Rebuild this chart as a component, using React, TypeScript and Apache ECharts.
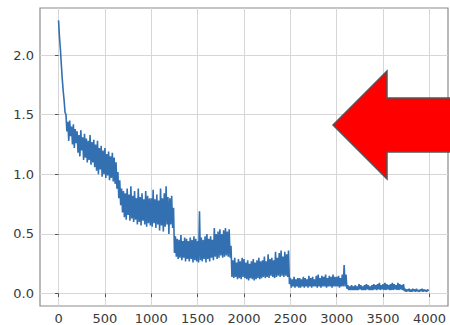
import React, { useEffect, useRef } from "react";
import * as echarts from "echarts";

// Loss curve: one high and one low reading per 20-step window
const sampleStep = 20;
const lossHigh = [
  2.29, 2.05, 1.8, 1.62, 1.5, 1.44, 1.45, 1.4, 1.42, 1.38,
  1.36, 1.33, 1.37, 1.31, 1.34, 1.3, 1.28, 1.33, 1.27, 1.29,
  1.25, 1.28, 1.22, 1.24, 1.2, 1.22, 1.17, 1.19, 1.15, 1.18,
  1.14, 1.1, 1.02, 0.95, 0.88, 0.86, 0.84, 0.88, 0.83, 0.9,
  0.82, 0.86, 0.8, 0.88, 0.81, 0.84, 0.79, 0.86, 0.82, 0.8,
  0.8, 0.87, 0.79, 0.83, 0.78, 0.88, 0.8, 0.84, 0.9, 0.81,
  0.8, 0.82, 0.72, 0.48, 0.46, 0.45, 0.49, 0.44, 0.47, 0.46,
  0.44, 0.47, 0.45, 0.48, 0.46, 0.44, 0.69, 0.47, 0.45, 0.48,
  0.5, 0.46, 0.48, 0.45, 0.55, 0.5, 0.52, 0.54, 0.5, 0.53,
  0.55, 0.52, 0.54, 0.4, 0.28, 0.3, 0.26, 0.29, 0.27, 0.3,
  0.29, 0.26, 0.28, 0.25, 0.27, 0.29, 0.26, 0.28, 0.3, 0.27,
  0.28, 0.31, 0.27, 0.33, 0.29, 0.3, 0.28, 0.35, 0.3, 0.34,
  0.36, 0.31, 0.35, 0.33, 0.36, 0.13, 0.12, 0.14, 0.12, 0.13,
  0.13, 0.12, 0.14, 0.13, 0.12, 0.15, 0.13, 0.14, 0.12, 0.15,
  0.16, 0.13, 0.15, 0.14, 0.16, 0.13, 0.15, 0.14, 0.16, 0.14,
  0.14, 0.15, 0.13, 0.16, 0.24, 0.16, 0.07, 0.06, 0.07, 0.06,
  0.07, 0.06, 0.08, 0.07, 0.06, 0.07, 0.08, 0.07, 0.06, 0.07,
  0.08, 0.07, 0.08, 0.09, 0.07, 0.08, 0.09, 0.08, 0.07, 0.08,
  0.09, 0.08, 0.07, 0.09, 0.08, 0.07, 0.08, 0.04, 0.035, 0.04,
  0.035, 0.04, 0.035, 0.04, 0.03, 0.035, 0.04, 0.035, 0.03, 0.035,
];
const lossLow = [
  2.15, 1.92, 1.7, 1.52, 1.36, 1.28, 1.32, 1.25, 1.22, 1.26,
  1.18, 1.15, 1.2, 1.12, 1.14, 1.1, 1.12, 1.08, 1.1, 1.06,
  1.03, 1.0, 1.04, 0.98, 1.0, 0.97, 0.99, 0.95, 0.97, 0.94,
  0.92, 0.88, 0.8, 0.74, 0.68, 0.64, 0.62, 0.66, 0.61, 0.63,
  0.6, 0.62, 0.58, 0.6, 0.57, 0.61, 0.58, 0.56, 0.59, 0.57,
  0.56, 0.59, 0.55, 0.58, 0.53, 0.57, 0.52, 0.56, 0.58, 0.5,
  0.58, 0.55, 0.34, 0.31, 0.29, 0.3, 0.28, 0.3, 0.27, 0.29,
  0.27, 0.29, 0.26, 0.28, 0.27, 0.26, 0.28, 0.27, 0.29, 0.26,
  0.29, 0.27, 0.3, 0.28, 0.31, 0.29, 0.3, 0.32, 0.3, 0.31,
  0.32, 0.31, 0.3, 0.14, 0.13, 0.14, 0.12, 0.13, 0.12, 0.14,
  0.13, 0.12, 0.11, 0.13, 0.12, 0.11, 0.12, 0.13, 0.12, 0.13,
  0.14, 0.13, 0.14, 0.13, 0.15, 0.14, 0.13, 0.14, 0.15, 0.14,
  0.15, 0.14, 0.15, 0.14, 0.08, 0.05, 0.06, 0.05, 0.06, 0.05,
  0.05, 0.06, 0.05, 0.06, 0.05, 0.06, 0.05, 0.06, 0.06, 0.05,
  0.06, 0.05, 0.06, 0.06, 0.05, 0.06, 0.06, 0.05, 0.06, 0.06,
  0.06, 0.05, 0.06, 0.06, 0.06, 0.04, 0.03, 0.03, 0.03, 0.03,
  0.03, 0.03, 0.035, 0.03, 0.03, 0.03, 0.035, 0.03, 0.03, 0.03,
  0.035, 0.03, 0.035, 0.03, 0.035, 0.03, 0.03, 0.035, 0.03, 0.03,
  0.03, 0.035, 0.03, 0.03, 0.035, 0.03, 0.02, 0.015, 0.02, 0.015,
  0.015, 0.02, 0.015, 0.02, 0.015, 0.02, 0.015, 0.02, 0.015, 0.02,
];
const xTicks = [0, 500, 1000, 1500, 2000, 2500, 3000, 3500, 4000];
const yTicks = [0, 0.5, 1.0, 1.5, 2.0];

export default function App() {
  const ref = useRef<HTMLDivElement>(null);
  useEffect(() => {
    if (!ref.current) return;
    const chart = echarts.init(ref.current, null, { renderer: "svg" });
    const data: [number, number][] = [];
    for (let i = 0; i < lossHigh.length; i++) {
      data.push([i * sampleStep, lossHigh[i]]);
      data.push([i * sampleStep + sampleStep / 2, lossLow[i]]);
    }
    const labelStyle = {
      color: "#3a3a3a",
      fontSize: 13,
      fontFamily: "DejaVu Sans",
    };
    chart.setOption({
      animation: false,
      backgroundColor: "#ffffff",
      grid: {
        left: 40,
        top: 8,
        width: 408,
        height: 298,
        show: true,
        borderColor: "#8c8c8c",
        borderWidth: 1.2,
        backgroundColor: "transparent",
      },
      xAxis: {
        type: "value",
        min: -200,
        max: 4200,
        axisLine: { show: false },
        axisTick: {
          show: true,
          length: 3.5,
          lineStyle: { color: "#555" },
          customValues: xTicks,
        },
        axisLabel: {
          ...labelStyle,
          margin: 6,
          customValues: xTicks,
          formatter: (v: number) => String(v),
        },
        splitLine: { show: true, lineStyle: { color: "#d6d6d6", width: 1 } },
      },
      yAxis: {
        type: "value",
        min: -0.104,
        max: 2.394,
        axisLine: { show: false },
        axisTick: {
          show: true,
          length: 3.5,
          lineStyle: { color: "#555" },
          customValues: yTicks,
        },
        axisLabel: {
          ...labelStyle,
          margin: 6,
          customValues: yTicks,
          formatter: (v: number) => v.toFixed(1),
        },
        splitLine: { show: true, lineStyle: { color: "#d6d6d6", width: 1 } },
      },
      series: [
        {
          type: "line",
          data,
          showSymbol: false,
          symbol: "none",
          lineStyle: { color: "#3270b2", width: 1.6 },
          z: 3,
        },
      ],
      graphic: [
        {
          type: "polygon",
          z: 100,
          shape: {
            points: [
              [333, 125],
              [387, 71],
              [387, 98],
              [452, 98],
              [452, 152],
              [387, 152],
              [387, 179],
            ],
          },
          style: { fill: "#ff0000", stroke: "#555555", lineWidth: 1.5 },
        },
      ],
    });
    return () => chart.dispose();
  }, []);
  return (
    <div
      ref={ref}
      style={{ position: "fixed", left: 0, top: 0, width: 450, height: 325 }}
    />
  );
}
